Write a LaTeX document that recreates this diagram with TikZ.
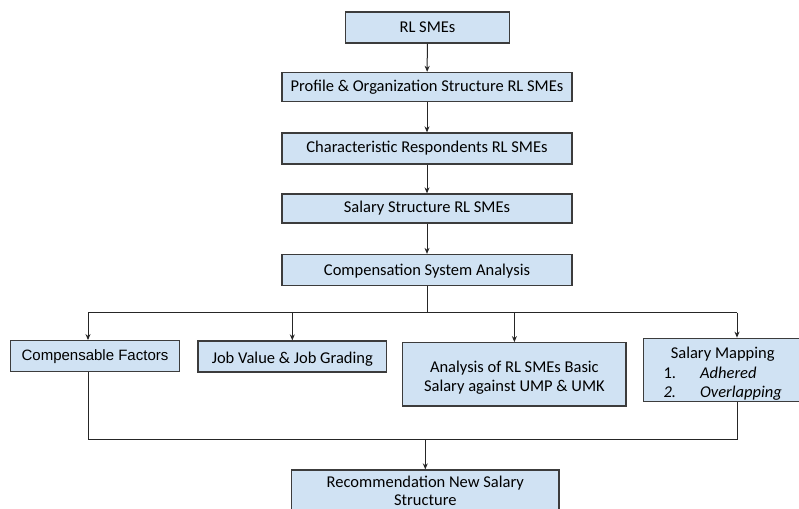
\documentclass[tikz,border=0pt]{standalone}
\usepackage{fontspec}
\setmainfont{Carlito}
\newfontfamily\arialf{Liberation Sans}
\usetikzlibrary{arrows.meta}
\definecolor{boxfill}{RGB}{208,226,243}
\definecolor{boxline}{RGB}{60,60,60}
\newcommand{\nudge}[2]{\raisebox{#1}[\height][\depth]{#2}}
\tikzset{
  flowbox/.style={draw=boxline, line width=1.3pt, fill=boxfill, inner sep=0pt,
    align=center, font=\fontsize{16.5}{19.5}\selectfont},
  conn/.style={draw=black!85, line width=1pt},
  arr/.style={conn, -{Stealth[length=6pt,width=5pt]}}
}
\begin{document}
\begin{tikzpicture}[x=1pt,y=-1pt]
\clip (0,0) rectangle (799,508);
\fill[white] (0,0) rectangle (799,508);
% top chain
\node[flowbox, minimum width=164, minimum height=31] (rl) at (427.5,27.5) {RL SMEs};
\node[flowbox, minimum width=290, minimum height=29] (prof) at (427,87) {Profile \& Organization Structure RL SMEs};
\node[flowbox, minimum width=290, minimum height=31] (char) at (427,148.5) {Characteristic Respondents RL SMEs};
\node[flowbox, minimum width=290, minimum height=29] (sal) at (427,208.5) {Salary Structure RL SMEs};
\node[flowbox, minimum width=290, minimum height=31] (comp) at (427,270) {\nudge{-1pt}{Compensation System Analysis}};
% second row
\node[flowbox, minimum width=168.5, minimum height=31, font=\arialf\fontsize{15}{18}\selectfont] (cf) at (95,356.2) {Compensable Factors};
\node[flowbox, minimum width=188.6, minimum height=31] (jv) at (292.3,356.5) {\nudge{-2.5pt}{Job Value \& Job Grading}};
\node[flowbox, minimum width=223.3, minimum height=63.3] (an) at (514.4,374.4) {\nudge{-3.5pt}{\begin{tabular}{@{}c@{}}Analysis of RL SMEs Basic\\Salary against UMP \& UMK\end{tabular}}};
\node[flowbox, minimum width=158.5, minimum height=63.4] (sm) at (722.7,370) {\nudge{-4.5pt}{\begin{tabular}{@{}l@{\hspace{24pt}}l@{}}\multicolumn{2}{c}{Salary Mapping}\\1. & \textit{Adhered}\\\textit{2.} & \textit{Overlapping}\end{tabular}}};
% bottom
\node[flowbox, minimum width=267.3, minimum height=52] (rec) at (425.3,496) {\nudge{3.5pt}{\fontsize{16.5}{18}\selectfont\begin{tabular}{@{}c@{}}Recommendation New Salary\\Structure\end{tabular}}};
% chain arrows
\draw[arr] (rl) -- (prof);
\draw[arr] (prof) -- (char);
\draw[arr] (char) -- (sal);
\draw[arr] (sal) -- (comp);
% distribution bus
\coordinate (bl) at (88,312.5);
\coordinate (br) at (737,312.5);
\coordinate (bc) at (comp.south |- bl);
\draw[conn] (comp.south) -- (bc);
\draw[conn] (bl) -- (br);
\draw[arr] (bl) -- (bl |- cf.north);
\draw[arr] (jv.north |- bl) -- (jv.north);
\draw[arr] (an.north |- bl) -- (an.north);
\draw[arr] (br) -- (br |- sm.north);
% merge bus
\coordinate (ml) at (88,439.5);
\coordinate (mr) at (737,439.5);
\draw[conn] (bl |- cf.south) -- (ml) -- (mr) -- (mr |- sm.south);
\coordinate (mc) at (rec.north |- ml);
\draw[arr] (mc) -- (rec.north);
\end{tikzpicture}
\end{document}
